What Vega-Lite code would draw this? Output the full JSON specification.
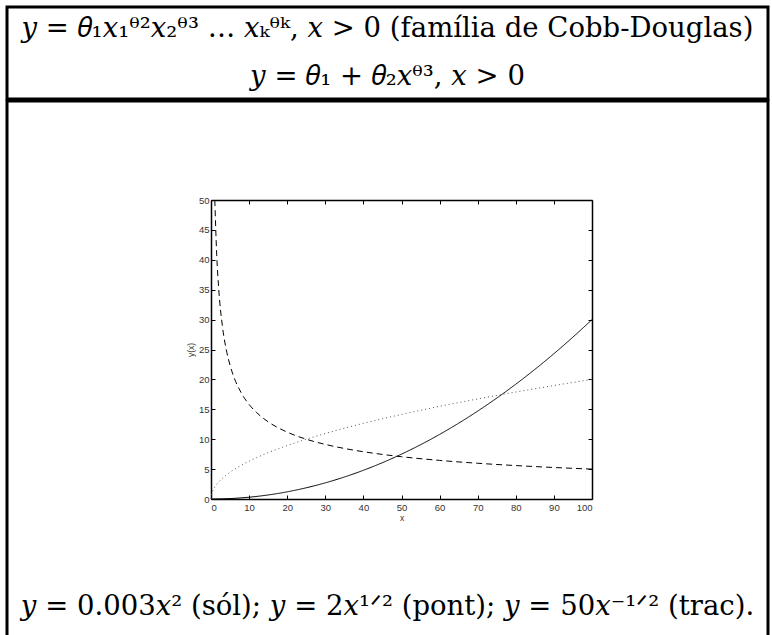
{
  "$schema": "https://vega.github.io/schema/vega-lite/v6.json",
  "padding": {"left": 5, "top": 5, "right": 0, "bottom": 0},
  "background": "white",
  "spacing": -6,
  "config": {
    "view": {"stroke": "black", "strokeWidth": 3},
    "text": {"font": "DejaVu Serif", "color": "black"},
    "axis": {
      "labelFont": "Liberation Sans",
      "labelFontSize": 9.5,
      "labelColor": "#333333",
      "titleFont": "Liberation Sans",
      "titleFontSize": 8.5,
      "titleFontWeight": "normal",
      "titleColor": "#333333",
      "domainColor": "black",
      "domainWidth": 1.5,
      "tickColor": "black",
      "tickWidth": 1,
      "grid": false
    }
  },
  "datasets": {
    "curvas": [
      {"curva": "sól", "x": 0, "y": 0},
      {"curva": "sól", "x": 5, "y": 0.075},
      {"curva": "sól", "x": 10, "y": 0.3},
      {"curva": "sól", "x": 15, "y": 0.675},
      {"curva": "sól", "x": 20, "y": 1.2},
      {"curva": "sól", "x": 25, "y": 1.875},
      {"curva": "sól", "x": 30, "y": 2.7},
      {"curva": "sól", "x": 35, "y": 3.675},
      {"curva": "sól", "x": 40, "y": 4.8},
      {"curva": "sól", "x": 45, "y": 6.075},
      {"curva": "sól", "x": 50, "y": 7.5},
      {"curva": "sól", "x": 55, "y": 9.075},
      {"curva": "sól", "x": 60, "y": 10.8},
      {"curva": "sól", "x": 65, "y": 12.675},
      {"curva": "sól", "x": 70, "y": 14.7},
      {"curva": "sól", "x": 75, "y": 16.875},
      {"curva": "sól", "x": 80, "y": 19.2},
      {"curva": "sól", "x": 85, "y": 21.675},
      {"curva": "sól", "x": 90, "y": 24.3},
      {"curva": "sól", "x": 95, "y": 27.075},
      {"curva": "sól", "x": 100, "y": 30},
      {"curva": "pont", "x": 0, "y": 0},
      {"curva": "pont", "x": 0.25, "y": 1},
      {"curva": "pont", "x": 0.5, "y": 1.414},
      {"curva": "pont", "x": 1, "y": 2},
      {"curva": "pont", "x": 1.5, "y": 2.449},
      {"curva": "pont", "x": 2, "y": 2.828},
      {"curva": "pont", "x": 3, "y": 3.464},
      {"curva": "pont", "x": 4, "y": 4},
      {"curva": "pont", "x": 5, "y": 4.472},
      {"curva": "pont", "x": 6, "y": 4.899},
      {"curva": "pont", "x": 8, "y": 5.657},
      {"curva": "pont", "x": 10, "y": 6.325},
      {"curva": "pont", "x": 12, "y": 6.928},
      {"curva": "pont", "x": 15, "y": 7.746},
      {"curva": "pont", "x": 20, "y": 8.944},
      {"curva": "pont", "x": 25, "y": 10},
      {"curva": "pont", "x": 30, "y": 10.954},
      {"curva": "pont", "x": 35, "y": 11.832},
      {"curva": "pont", "x": 40, "y": 12.649},
      {"curva": "pont", "x": 45, "y": 13.416},
      {"curva": "pont", "x": 50, "y": 14.142},
      {"curva": "pont", "x": 60, "y": 15.492},
      {"curva": "pont", "x": 70, "y": 16.733},
      {"curva": "pont", "x": 80, "y": 17.889},
      {"curva": "pont", "x": 90, "y": 18.974},
      {"curva": "pont", "x": 100, "y": 20},
      {"curva": "trac", "x": 1, "y": 50},
      {"curva": "trac", "x": 1.5, "y": 40.825},
      {"curva": "trac", "x": 2, "y": 35.355},
      {"curva": "trac", "x": 3, "y": 28.868},
      {"curva": "trac", "x": 4, "y": 25},
      {"curva": "trac", "x": 5, "y": 22.361},
      {"curva": "trac", "x": 6, "y": 20.412},
      {"curva": "trac", "x": 8, "y": 17.678},
      {"curva": "trac", "x": 10, "y": 15.811},
      {"curva": "trac", "x": 12, "y": 14.434},
      {"curva": "trac", "x": 15, "y": 12.91},
      {"curva": "trac", "x": 20, "y": 11.18},
      {"curva": "trac", "x": 25, "y": 10},
      {"curva": "trac", "x": 30, "y": 9.129},
      {"curva": "trac", "x": 35, "y": 8.452},
      {"curva": "trac", "x": 40, "y": 7.906},
      {"curva": "trac", "x": 45, "y": 7.454},
      {"curva": "trac", "x": 50, "y": 7.071},
      {"curva": "trac", "x": 60, "y": 6.455},
      {"curva": "trac", "x": 70, "y": 5.976},
      {"curva": "trac", "x": 80, "y": 5.59},
      {"curva": "trac", "x": 90, "y": 5.27},
      {"curva": "trac", "x": 100, "y": 5}
    ]
  },
  "vconcat": [
    {
      "width": 761,
      "height": 92,
      "data": {
        "values": [
          {"linha": 1, "texto": "𝑦 = 𝜃₁𝑥₁ᶿ²𝑥₂ᶿ³ … 𝑥ₖᶿᵏ, 𝑥 > 0 (família de Cobb-Douglas)"},
          {"linha": 2, "texto": "𝑦 = 𝜃₁ + 𝜃₂𝑥ᶿ³, 𝑥 > 0"}
        ]
      },
      "mark": {"type": "text", "fontSize": 27.5, "baseline": "middle", "align": "center"},
      "encoding": {
        "y": {"field": "linha", "type": "ordinal", "scale": {"type": "point", "padding": 0.45}, "axis": null},
        "text": {"field": "texto"}
      }
    },
    {
      "width": 761,
      "height": 560,
      "layer": [
        {
          "data": {"name": "curvas"},
          "transform": [{"filter": "datum.curva != 'trac'"}],
          "mark": {"type": "line", "strokeWidth": 1, "interpolate": "monotone", "clip": true},
          "encoding": {
            "x": {
              "field": "x", "type": "quantitative",
              "scale": {"domain": [0, 100], "range": [204, 585], "nice": false, "zero": false},
              "axis": {"orient": "bottom", "offset": -162, "values": [0, 10, 20, 30, 40, 50, 60, 70, 80, 90, 100], "tickSize": -4, "labelPadding": 7, "title": "x", "titlePadding": 2}
            },
            "y": {
              "field": "y", "type": "quantitative",
              "scale": {"domain": [0, 50], "range": [398, 99], "nice": false, "zero": false},
              "axis": {"orient": "left", "offset": -204, "values": [0, 5, 10, 15, 20, 25, 30, 35, 40, 45, 50], "tickSize": -4, "labelPadding": 6, "title": "y(x)", "titlePadding": 3}
            },
            "color": {"field": "curva", "type": "nominal", "scale": {"domain": ["sól", "pont", "trac"], "range": ["black", "#555555", "black"]}, "legend": null},
            "strokeDash": {"field": "curva", "type": "nominal", "scale": {"domain": ["sól", "pont", "trac"], "range": [[1, 0], [1, 3], [6, 4]]}, "legend": null}
          }
        },
        {
          "data": {"name": "curvas"},
          "transform": [{"filter": "datum.curva == 'trac'"}],
          "mark": {"type": "line", "strokeWidth": 1, "interpolate": "monotone", "clip": true},
          "encoding": {
            "x": {
              "field": "x", "type": "quantitative",
              "axis": {"orient": "top", "offset": -99, "values": [0, 10, 20, 30, 40, 50, 60, 70, 80, 90, 100], "tickSize": -4, "labels": false, "title": null}
            },
            "y": {
              "field": "y", "type": "quantitative",
              "axis": {"orient": "right", "offset": -176, "values": [0, 5, 10, 15, 20, 25, 30, 35, 40, 45, 50], "tickSize": -4, "labels": false, "title": null}
            },
            "color": {"field": "curva", "type": "nominal", "legend": null},
            "strokeDash": {"field": "curva", "type": "nominal", "legend": null}
          }
        },
        {
          "data": {"values": [{"texto": "𝑦 = 0.003𝑥² (sól); 𝑦 = 2𝑥¹ᐟ² (pont); 𝑦 = 50𝑥⁻¹ᐟ² (trac)."}]},
          "mark": {"type": "text", "fontSize": 27.5, "baseline": "middle", "align": "center"},
          "encoding": {
            "y": {"value": 506},
            "text": {"field": "texto"}
          }
        }
      ],
      "resolve": {"axis": {"x": "independent", "y": "independent"}}
    }
  ]
}
